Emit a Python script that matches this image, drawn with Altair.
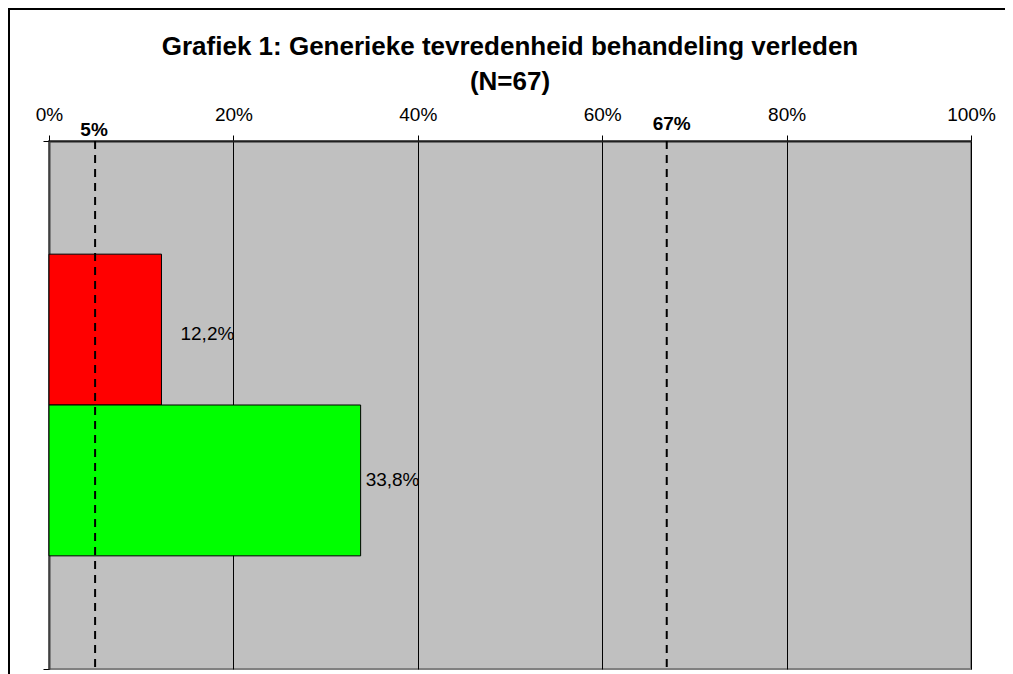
import altair as alt
import pandas as pd

# ---- data ----
category = ["Behandeling verleden"]
series = ["Ontevreden", "Tevreden"]
values = [12.2, 33.8]
colors = ["#FF0000", "#00FF00"]
thresholds = [5, 67]
x_ticks = [0, 20, 40, 60, 80, 100]
title_lines = ["Grafiek 1: Generieke tevredenheid behandeling verleden", "(N=67)"]

FONT = "Liberation Sans"

df = pd.DataFrame({"cat": category * len(series), "series": series, "pct": values})
thr = pd.DataFrame({"t": thresholds})
one = pd.DataFrame({"a": [0]})

W, H = 922, 528

x_enc = alt.X(
    "pct:Q",
    scale=alt.Scale(domain=[0, 100]),
    axis=alt.Axis(
        orient="top", values=x_ticks, labelExpr="datum.value + '%'",
        title=None, grid=True, gridColor="black", gridWidth=1,
        tickSize=6, tickColor="black", domainColor="#202020", domainWidth=2,
        labelFont=FONT, labelFontSize=19, labelColor="black",
        labelFlush=False, labelOverlap=False, labelPadding=15,
        labelBaseline="alphabetic",
    ),
)
y_enc = alt.Y(
    "cat:N",
    scale=alt.Scale(paddingInner=0, paddingOuter=0),
    axis=alt.Axis(labels=False, title=None, tickBand="extent", tickSize=6,
                  tickColor="black", domainColor="#404040", domainWidth=2,
                  grid=False),
)
yoff_enc = alt.YOffset("series:N", sort=series,
                       scale=alt.Scale(paddingInner=0, paddingOuter=0.75))

base = alt.Chart(df)

bars = base.mark_bar(stroke="black", strokeWidth=1).encode(
    x=x_enc, y=y_enc, yOffset=yoff_enc,
    color=alt.Color("series:N", scale=alt.Scale(domain=series, range=colors), legend=None),
)

label_calc = "replace(format(datum.pct, '.1f'), '.', ',') + '%'"
lab_red = base.transform_filter(alt.datum.series == series[0]).transform_calculate(
    lab=label_calc
).mark_text(align="left", baseline="middle", dx=19, dy=4, font=FONT, fontSize=19, color="black").encode(
    x="pct:Q", y="cat:N", yOffset=alt.YOffset("series:N", sort=series), text="lab:N"
)
lab_green = base.transform_filter(alt.datum.series == series[1]).transform_calculate(
    lab=label_calc
).mark_text(align="left", baseline="middle", dx=5, dy=0, font=FONT, fontSize=19, color="black").encode(
    x="pct:Q", y="cat:N", yOffset=alt.YOffset("series:N", sort=series), text="lab:N"
)

dash = alt.Chart(thr).mark_rule(color="black", strokeWidth=2, strokeDash=[8, 6]).encode(x="t:Q")

thr_lab1 = alt.Chart(thr).transform_filter(alt.datum.t == thresholds[0]).transform_calculate(
    lab="datum.t + '%'"
).mark_text(font=FONT, fontSize=19, fontWeight="bold", color="black", baseline="middle", dx=-1).encode(
    x="t:Q", y=alt.value(-11), text="lab:N"
)
thr_lab2 = alt.Chart(thr).transform_filter(alt.datum.t == thresholds[1]).transform_calculate(
    lab="datum.t + '%'"
).mark_text(font=FONT, fontSize=19, fontWeight="bold", color="black", baseline="middle", dx=5).encode(
    x="t:Q", y=alt.value(-17), text="lab:N"
)

border_left = alt.Chart(one).mark_rule(color="black", strokeWidth=2).encode(
    x=alt.value(-40), y=alt.value(-132), y2=alt.value(H + 20)
)
border_top = alt.Chart(one).mark_rule(color="black", strokeWidth=2).encode(
    x=alt.value(-41), x2=alt.value(W + 40), y=alt.value(-132)
)

chart = alt.layer(
    bars, lab_red, lab_green, dash, thr_lab1, thr_lab2, border_left, border_top
).properties(
    width=W, height=H,
    title=alt.TitleParams(title_lines, font=FONT, fontSize=26, fontWeight="bold",
                          color="black", lineHeight=35, anchor="middle",
                          baseline="bottom", offset=-113),
    padding={"left": 41, "top": 133, "right": 34, "bottom": 5},
    autosize=alt.AutoSizeParams(type="none"),
).configure(
    background="white"
).configure_view(
    fill="#C0C0C0", stroke="#808080", strokeWidth=2
)

chart.save("out.html", embed_options={"renderer": "svg", "actions": False})
